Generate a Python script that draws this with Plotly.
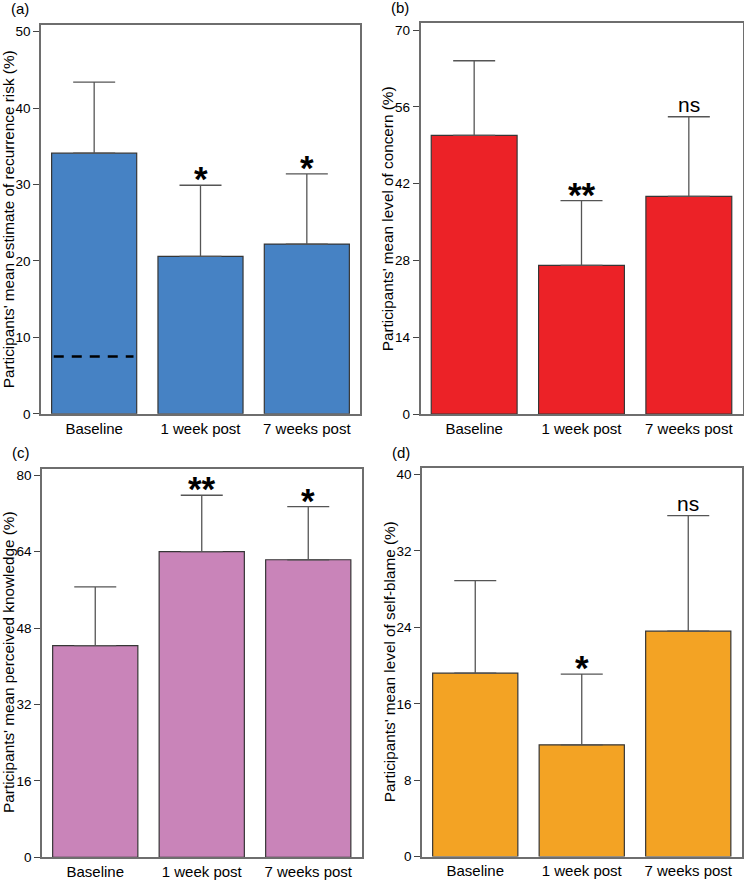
import plotly.graph_objects as go

categories = ["Baseline", "1 week post", "7 weeks post"]

# Panel (a) recurrence risk estimate
risk_mean = [34.1, 20.6, 22.2]
risk_upper = [43.4, 29.9, 31.4]
risk_sig = ["", "*", "*"]
population_risk = 7.5

# Panel (b) level of concern
concern_mean = [50.8, 27.1, 39.7]
concern_upper = [64.4, 38.9, 54.2]
concern_sig = ["", "**", "ns"]

# Panel (c) perceived knowledge
knowledge_mean = [44.3, 64.0, 62.3]
knowledge_upper = [56.6, 75.8, 73.4]
knowledge_sig = ["", "**", "*"]

# Panel (d) self-blame
blame_mean = [19.2, 11.7, 23.6]
blame_upper = [28.9, 19.1, 35.7]
blame_sig = ["", "*", "ns"]

panels = [
    dict(label="(a)", mean=risk_mean, upper=risk_upper, sig=risk_sig, color="#4682C4",
         title="Participants' mean estimate of recurrence risk (%)",
         ticks=[0, 10, 20, 30, 40, 50], ymax=50.9,
         px=(41, 360), py=(24, 417)),
    dict(label="(b)", mean=concern_mean, upper=concern_upper, sig=concern_sig, color="#EC2227",
         title="Participants' mean level of concern (%)",
         ticks=[0, 14, 28, 42, 56, 70], ymax=71.2,
         px=(420.5, 742.5), py=(22.7, 417.3)),
    dict(label="(c)", mean=knowledge_mean, upper=knowledge_upper, sig=knowledge_sig, color="#C984B9",
         title="Participants' mean perceived knowledge (%)",
         ticks=[0, 16, 32, 48, 64, 80], ymax=81.4,
         px=(42, 361.5), py=(472.3, 865)),
    dict(label="(d)", mean=blame_mean, upper=blame_upper, sig=blame_sig, color="#F3A324",
         title="Participants' mean level of self-blame (%)",
         ticks=[0, 8, 16, 24, 32, 40], ymax=40.7,
         px=(422, 741.5), py=(471.7, 864.3)),
]

W, H = 744, 889
FONT = "Liberation Sans, Arial, Helvetica, sans-serif"
fig = go.Figure()
layout = dict(width=W, height=H, margin=dict(l=0, r=0, t=0, b=0),
              paper_bgcolor="white", plot_bgcolor="white", showlegend=False,
              font=dict(family=FONT, color="black"))
annotations = []
shapes = []

for i, p in enumerate(panels, start=1):
    xa = "x" if i == 1 else f"x{i}"
    ya = "y" if i == 1 else f"y{i}"
    xkey = "xaxis" if i == 1 else f"xaxis{i}"
    ykey = "yaxis" if i == 1 else f"yaxis{i}"
    err = [u - m for u, m in zip(p["upper"], p["mean"])]
    fig.add_trace(go.Bar(
        x=categories, y=p["mean"], xaxis=xa, yaxis=ya, width=0.8,
        marker=dict(color=p["color"], line=dict(color="#363636", width=1.2)),
        error_y=dict(type="data", symmetric=False, array=err,
                     arrayminus=[0] * len(err), color="#555555",
                     thickness=1.3, width=21),
    ))
    x0, x1 = p["px"]
    y0, y1 = p["py"]
    layout[xkey] = dict(domain=[x0 / W, x1 / W], anchor=ya, range=[-0.5, 2.5],
                        showline=True, mirror=True, linecolor="#6e6e6e", linewidth=1.5,
                        ticks="", tickfont=dict(size=15, color="black"),
                        showgrid=False, zeroline=False, fixedrange=True)
    layout[ykey] = dict(domain=[1 - y1 / H, 1 - y0 / H], anchor=xa, range=[0, p["ymax"]],
                        tickvals=p["ticks"], ticks="outside", ticklen=6, tickcolor="#444444",
                        tickwidth=1.2, tickfont=dict(size=13.5, color="black"),
                        showline=True, mirror=True, linecolor="#6e6e6e", linewidth=1.5,
                        showgrid=False, zeroline=False)
    # y-axis title
    annotations.append(dict(text=p["title"], textangle=-90, xref="paper", yref="paper",
                            x=(x0 - 33) / W, y=1 - (y0 + y1) / 2 / H,
                            xanchor="center", yanchor="middle", showarrow=False,
                            font=dict(size=15.3, color="black")))
    # panel label
    annotations.append(dict(text=p["label"], xref="paper", yref="paper",
                            x=(x0 - 32) / W, y=1 - (y0 - 16) / H,
                            xanchor="left", yanchor="middle", showarrow=False,
                            font=dict(size=15, color="black")))
    # significance markers
    for c, u, s in zip(categories, p["upper"], p["sig"]):
        if not s:
            continue
        if s == "ns":
            annotations.append(dict(text=s, x=c, y=u, xref=xa, yref=ya, xanchor="center",
                                    yanchor="bottom", yshift=-1, showarrow=False,
                                    font=dict(size=21, color="black")))
        else:
            annotations.append(dict(text=f"<b>{s}</b>", x=c, y=u, xref=xa, yref=ya,
                                    xanchor="center", yanchor="bottom", yshift=-15,
                                    showarrow=False, font=dict(size=35, color="black")))

# dashed reference line in panel (a)
shapes.append(dict(type="line", xref="x", yref="y", x0=-0.38, x1=0.37,
                   y0=population_risk, y1=population_risk,
                   line=dict(color="black", width=2.5, dash="10px,8px")))

layout["annotations"] = annotations
layout["shapes"] = shapes
fig.update_layout(**layout)
fig.write_html("out.html", config={"displayModeBar": False},
               post_script="document.body.style.margin='0';document.body.style.overflow='hidden';")
